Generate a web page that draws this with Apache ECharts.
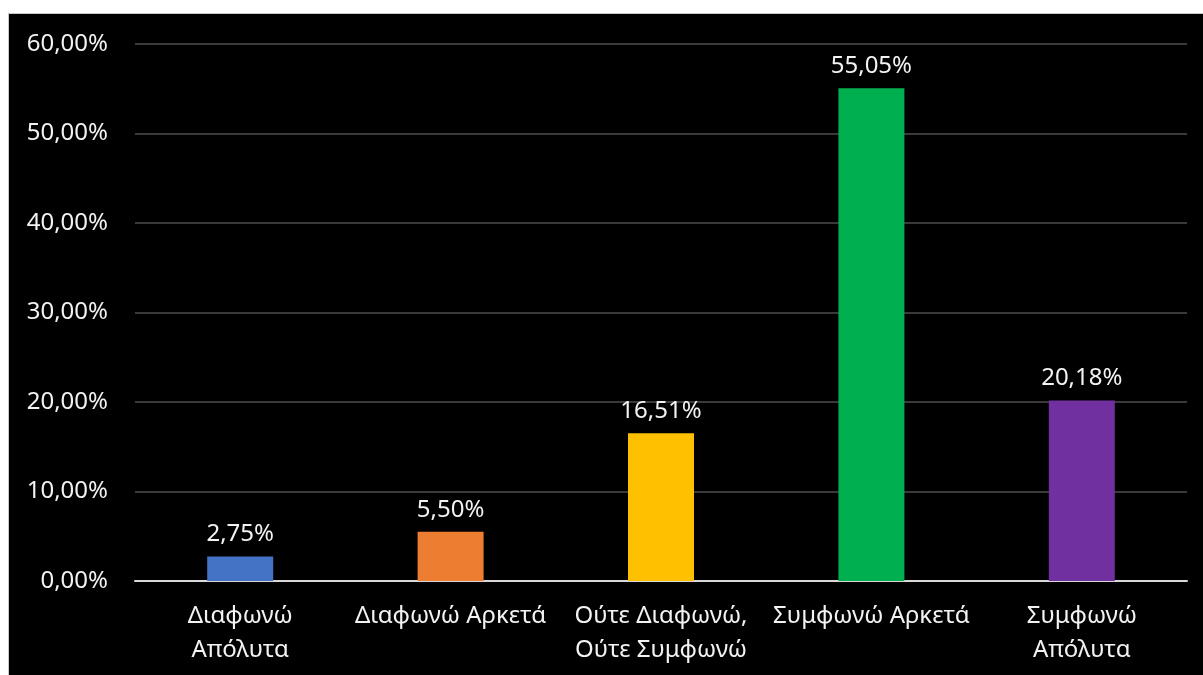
<!DOCTYPE html>
<html>
<head>
<meta charset="utf-8">
<script src="https://cdn.jsdelivr.net/npm/echarts@6/dist/echarts.min.js"></script>
<style>
    html, body { margin: 0; padding: 0; background: #fff; }
    #echart {
        position: absolute;
        left: 8px;
        top: 13px;
        width: 1194px;
        height: 661px;
        border-top: 1px solid #c8c8c8;
        border-left: 1px solid #c8c8c8;
    }
</style>
</head>
<body>
<div id="echart"></div>
<script>
// categories (line breaks as wrapped in the original)
var categories = ['Διαφωνώ\nΑπόλυτα', 'Διαφωνώ Αρκετά', 'Ούτε Διαφωνώ,\nΟύτε Συμφωνώ', 'Συμφωνώ Αρκετά', 'Συμφωνώ\nΑπόλυτα'];
var values = [2.75, 5.50, 16.51, 55.05, 20.18];
var barColors = ['#4472C4', '#ED7D31', '#FFC000', '#00B050', '#7030A0'];

function pct(v) {
    return v.toFixed(2).replace('.', ',') + '%';
}

var chart = echarts.init(document.getElementById('echart'));
var data = values.map(function (v, i) {
    return {value: v, itemStyle: {color: barColors[i]}};
});

var option = {
    backgroundColor: '#000',
    animation: false,
    textStyle: {fontFamily: 'Noto Sans'},
    grid: {left: 126, right: 16, top: 30, bottom: 94},
    xAxis: {
        type: 'category',
        data: categories,
        axisLine: {lineStyle: {color: '#d9d9d9', width: 2}},
        axisTick: {show: false},
        axisLabel: {
            color: '#f2f2f2',
            fontSize: 24,
            lineHeight: 34,
            margin: 18,
            interval: 0
        }
    },
    yAxis: {
        type: 'value',
        min: 0,
        max: 60,
        interval: 10,
        axisLine: {show: false},
        axisTick: {show: false},
        splitLine: {lineStyle: {color: '#3a3a3a', width: 2}},
        axisLabel: {
            color: '#f2f2f2',
            fontSize: 24,
            margin: 27,
            formatter: function (v) { return pct(v); }
        }
    },
    series: [{
        type: 'bar',
        data: data,
        barWidth: 66,
        label: {
            show: true,
            position: 'top',
            distance: 10,
            color: '#f2f2f2',
            fontSize: 24,
            formatter: function (p) { return pct(p.value); }
        }
    }]
};
chart.setOption(option);
</script>
</body>
</html>
